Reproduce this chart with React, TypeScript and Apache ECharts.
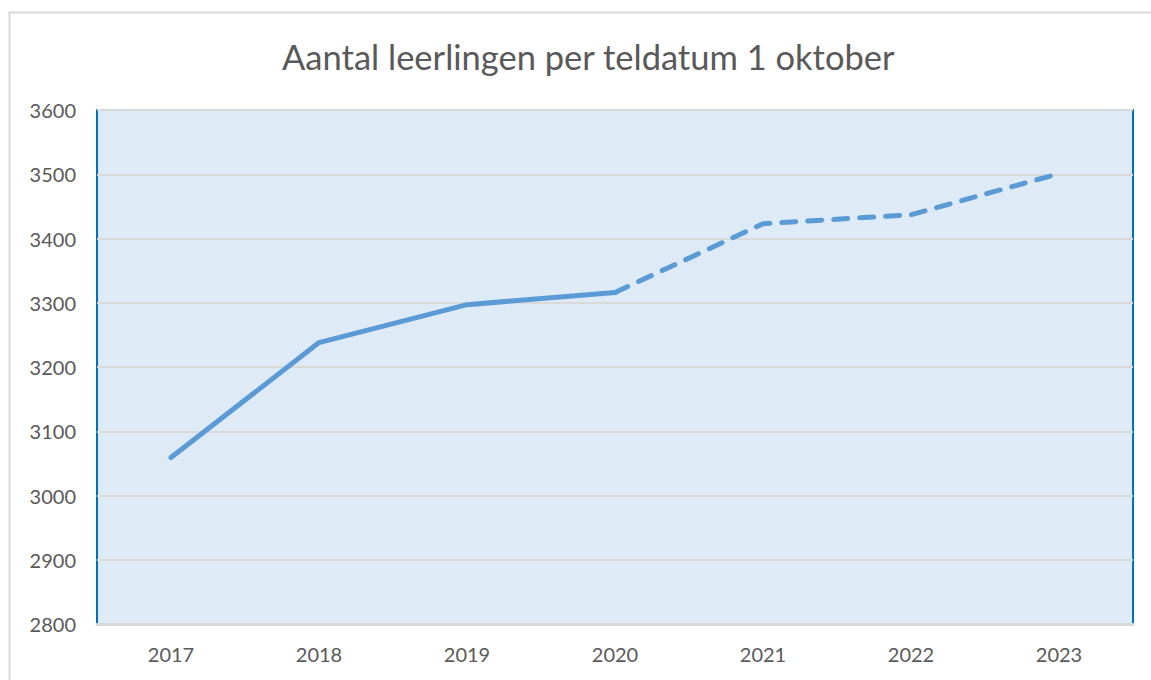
import React, { useEffect, useRef } from "react";
import * as echarts from "echarts";

const years = ["2017", "2018", "2019", "2020", "2021", "2022", "2023"];
const solidValues: (number | string)[] = [3059, 3238, 3297, 3316, "-", "-", "-"];
const dashedValues: (number | string)[] = ["-", "-", "-", 3316, 3423, 3437, 3501];
const titleText = "Aantal leerlingen per teldatum 1 oktober";

export default function App() {
  const ref = useRef<HTMLDivElement>(null);
  useEffect(() => {
    document.body.style.margin = "0";
    const chart = echarts.init(ref.current!, null, { renderer: "svg" });
    const font = "Lato";
    chart.setOption({
      animation: false,
      backgroundColor: "#ffffff",
      title: {
        text: titleText,
        left: 277,
        top: 34,
        textStyle: { fontFamily: font, fontSize: 34.5, fontWeight: "normal", color: "#595959" },
      },
      graphic: [
        {
          type: "rect",
          shape: { x: 9.5, y: 12.5, width: 1160, height: 700 },
          style: { fill: "none", stroke: "#d9d9d9", lineWidth: 2 },
          silent: true,
          z: -10,
        },
      ],
      grid: {
        left: 97,
        right: 18,
        top: 110,
        bottom: 56,
        show: true,
        backgroundColor: "#DEEAF6",
        borderColor: "#0070C0",
        borderWidth: 2,
      },
      xAxis: {
        type: "category",
        data: years,
        boundaryGap: true,
        axisLine: { show: true, lineStyle: { color: "#d9d9d9", width: 3 } },
        axisTick: { show: false },
        axisLabel: { fontFamily: font, fontSize: 20, color: "#595959", margin: 20 },
      },
      yAxis: {
        type: "value",
        min: 2800,
        max: 3600,
        interval: 100,
        axisLine: { show: false },
        axisTick: { show: false },
        axisLabel: {
          fontFamily: font,
          fontSize: 20,
          color: "#595959",
          margin: 21,
          formatter: (v: number) => String(v),
        },
        splitLine: { show: true, lineStyle: { color: "#d9d9d9", width: 2 } },
      },
      series: [
        {
          type: "line",
          data: solidValues,
          symbol: "none",
          lineStyle: { color: "#5B9BD5", width: 5, cap: "round", join: "round" },
          z: 3,
        },
        {
          type: "line",
          data: dashedValues,
          symbol: "none",
          lineStyle: { color: "#5B9BD5", width: 5, type: [14, 12], cap: "round", join: "round" },
          z: 3,
        },
      ],
    });
    return () => chart.dispose();
  }, []);
  return <div ref={ref} style={{ width: 1151, height: 680 }} />;
}
